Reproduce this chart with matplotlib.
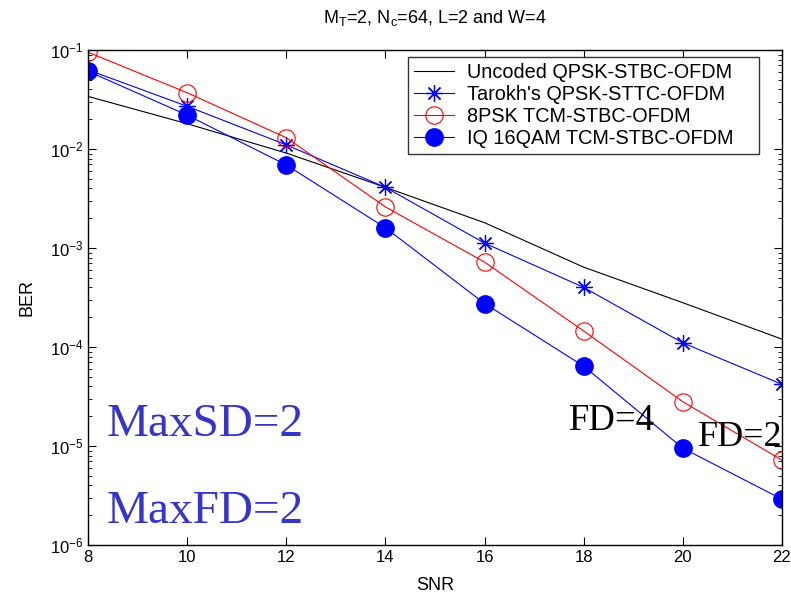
import matplotlib
matplotlib.use("Agg")
import matplotlib.pyplot as plt
import numpy as np

plt.rcParams['font.family'] = ['Liberation Sans', 'DejaVu Sans']
plt.rcParams['mathtext.fontset'] = 'custom'
plt.rcParams['mathtext.rm'] = 'Liberation Sans'
plt.rcParams['mathtext.it'] = 'Liberation Sans'

snr = [8, 10, 12, 14, 16, 18, 20, 22]
uncoded = [0.034, 0.018, 0.0091, 0.0041, 0.0018, 6.4e-4, 2.8e-4, 1.2e-4]
tarokh = [0.063, 0.027, 0.011, 0.0041, 0.00112, 4.0e-4, 1.1e-4, 4.2e-5]
psk8 = [0.095, 0.037, 0.013, 0.0026, 7.2e-4, 1.45e-4, 2.8e-5, 7.2e-6]
qam16 = [0.061, 0.022, 0.0069, 0.0016, 2.75e-4, 6.4e-5, 9.5e-6, 2.9e-6]

labels = ["Uncoded QPSK-STBC-OFDM", "Tarokh's QPSK-STTC-OFDM",
          "8PSK TCM-STBC-OFDM", "IQ 16QAM TCM-STBC-OFDM"]

W, H = 791, 595
fig = plt.figure(figsize=(W / 100, H / 100), dpi=100)
ax = fig.add_axes([88 / W, 1 - 545 / H, 694 / W, 495 / H])

ax.semilogy(snr, uncoded, color='black', lw=0.8, label=labels[0])
ax.semilogy(snr, tarokh, color='blue', lw=0.8, marker=(8, 2, 0), ms=12,
            markeredgewidth=0.9, label=labels[1])
ax.semilogy(snr, psk8, color='red', lw=0.8, marker='o', ms=12.5,
            mfc='none', mec='red', markeredgewidth=0.8, label=labels[2])
ax.semilogy(snr, qam16, color='blue', lw=0.8, marker='o', ms=12.5,
            mfc='blue', mec='blue', label=labels[3])

ax.set_xlim(8, 22)
ax.set_ylim(1e-6, 1e-1)
ax.set_xticks(snr)
ax.tick_params(which='both', direction='in', top=True, right=True, labelsize=12)
ax.tick_params(which='major', length=6)
ax.tick_params(which='minor', length=3)
for s in ax.spines.values():
    s.set_linewidth(1.0)

ax.set_xlabel("SNR", fontsize=13)
ax.set_ylabel("BER", fontsize=13)
ax.xaxis.set_label_coords(0.5, -40 / 495, transform=ax.transAxes)
ax.yaxis.set_label_coords(-61 / 694, 0.5, transform=ax.transAxes)
for lab in (ax.xaxis.label, ax.yaxis.label):
    lab.set_va('center')

fig.text((88 + 347) / W, 1 - 23 / H,
         r"M$_\mathregular{T}$=2, N$_\mathregular{c}$=64, L=2 and W=4",
         ha='center', va='baseline', fontsize=13)

leg = ax.legend(loc='upper left', bbox_to_anchor=(408 / W, 1 - 157 / H, 351 / W, 100 / H),
                bbox_transform=fig.transFigure, borderaxespad=0, mode='expand',
                fontsize=14.3, frameon=True, fancybox=False,
                edgecolor='black', handlelength=2.0, handletextpad=0.65,
                labelspacing=0.15, borderpad=0.3)
leg.get_frame().set_linewidth(1.0)

ax.text(8.37, 1.25e-5, "MaxSD=2", family='Liberation Serif', fontsize=34, color='#3535c8')
ax.text(8.37, 1.65e-6, "MaxFD=2", family='Liberation Serif', fontsize=34, color='#3535c8')
ax.text(17.7, 1.45e-5, "FD=4", family='Liberation Serif', fontsize=26.5, color='black')
ax.text(20.3, 1.0e-5, "FD=2", family='Liberation Serif', fontsize=26, color='black')

fig.savefig("out.png", dpi=100)
